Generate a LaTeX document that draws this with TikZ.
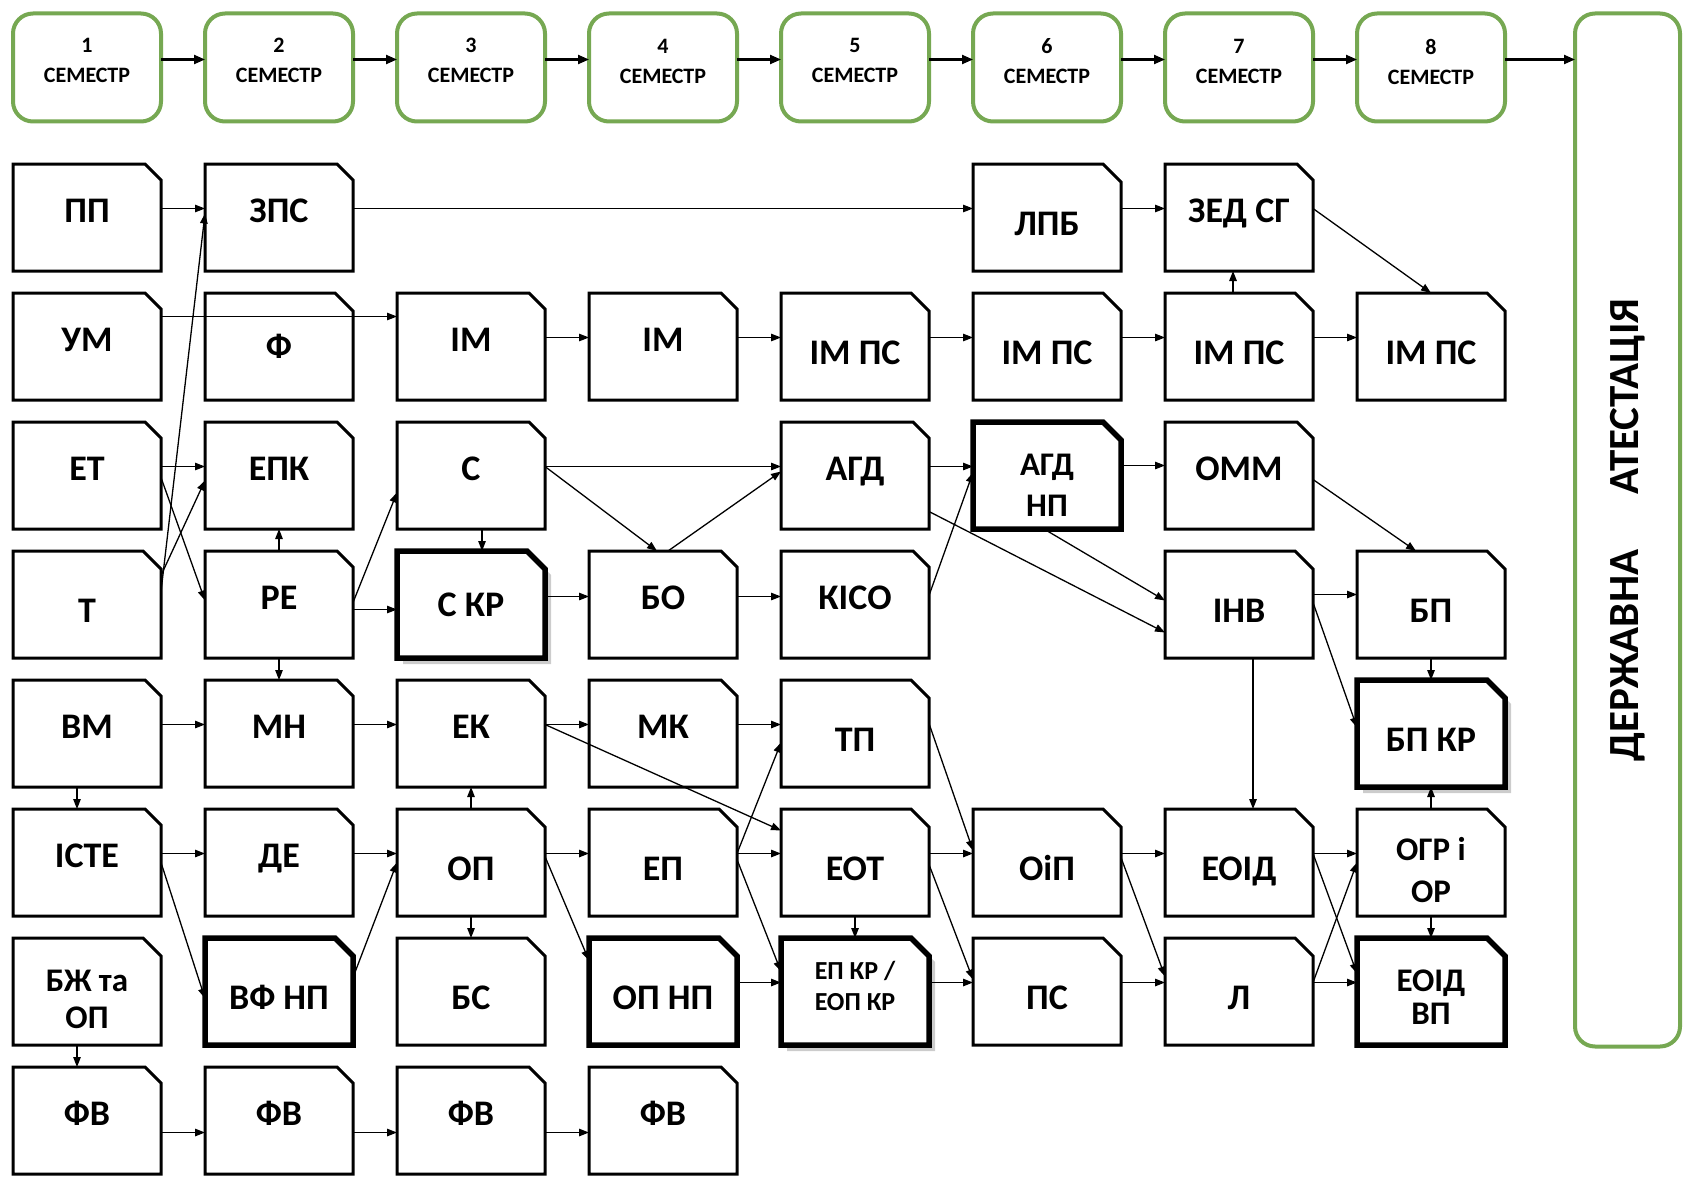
\documentclass[tikz,border=0pt]{standalone}
\usepackage{fontspec}
\setmainfont{Carlito}
\usepackage{graphicx}
\usetikzlibrary{shapes.misc,arrows.meta,positioning,calc,shadows}
\definecolor{semgreen}{RGB}{118,168,82}

\begin{document}
\begin{tikzpicture}[x=1pt, y=1pt,
  node distance=22pt and 44pt,
  box/.style={chamfered rectangle, chamfered rectangle corners=north east,
              chamfered rectangle xsep=9pt, chamfered rectangle ysep=9pt,
              draw, fill=white, line width=3pt, minimum width=148pt, minimum height=107pt,
              inner sep=2pt, outer sep=0pt, align=center,
              font=\bfseries\fontsize{36}{40}\selectfont},
  heavy/.style={box, line width=5.5pt},
  shad/.style={drop shadow={opacity=0.4, shadow xshift=6pt, shadow yshift=-6pt}},
  two/.style={font=\bfseries\fontsize{33}{41}\selectfont},
  twosmall/.style={font=\bfseries\fontsize{26}{31}\selectfont},
  hi/.style={text height=10pt, text depth=0pt},
  lo/.style={text height=36pt, text depth=0pt},
  sem/.style={draw=semgreen, line width=4pt, rounded corners=20pt, minimum width=148pt,
              minimum height=108pt, outer sep=0pt, align=center,
              font=\bfseries\fontsize{22}{30}\selectfont},
  att/.style={draw=semgreen, line width=4pt, rounded corners=20pt, minimum width=105pt,
              minimum height=1033pt, outer sep=0pt,
              font=\bfseries\fontsize{43}{48}\selectfont},
  ar/.style={-{Triangle[length=10pt, width=7.5pt]}, line width=1.3pt},
  sar/.style={-{Triangle[length=11pt, width=9pt]}, line width=2.2pt}
]
  \useasboundingbox (0,0) rectangle (1686,-1180);

  \node[box, hi] (pp) at (87,-217.5) {ПП};
  \node[box, hi, below=of pp] (um) {УМ};
  \node[box, hi, below=of um] (et) {ЕТ};
  \node[box, lo, below=of et] (t) {Т};
  \node[box, hi, below=of t] (vm) {ВМ};
  \node[box, hi, below=of vm] (iste) {ІСТЕ};
  \node[box, two, font=\bfseries\fontsize{33}{37.5}\selectfont, below=of iste] (bzh)
    {\rule{0pt}{37pt}БЖ та\\ОП};
  \node[box, hi, below=of bzh] (fv1) {ФВ};

  \node[box, right=of um] (f) {Ф};
  \node[box, hi, above=of f] (zps) {ЗПС};
  \node[box, hi, below=of f] (epk) {ЕПК};
  \node[box, hi, below=of epk] (re) {РЕ};
  \node[box, hi, below=of re] (mn) {МН};
  \node[box, hi, below=of mn] (de) {ДЕ};
  \node[heavy, lo, below=of de] (vfnp) {ВФ НП};
  \node[box, hi, below=of vfnp] (fv2) {ФВ};

  \node[box, hi, right=of f] (im3) {ІМ};
  \node[box, hi, below=of im3] (s) {С};
  \node[heavy, shad, below=of s] (skr) {С КР};
  \node[box, hi, below=of skr] (ek) {ЕК};
  \node[box, lo, below=of ek] (op) {ОП};
  \node[box, lo, below=of op] (bs) {БС};
  \node[box, hi, below=of bs] (fv3) {ФВ};

  \node[box, hi, right=of im3] (im4) {ІМ};
  \node[box, hi, right=of skr] (bo) {БО};
  \node[box, hi, right=of ek] (mk) {МК};
  \node[box, lo, right=of op] (ep) {ЕП};
  \node[heavy, lo, right=of bs] (opnp) {ОП НП};
  \node[box, hi, right=of fv3] (fv4) {ФВ};

  \node[box, lo, right=of im4] (imps5) {ІМ ПС};
  \node[box, hi, below=of imps5] (agd) {АГД};
  \node[box, hi, below=of agd] (kiso) {КІСО};
  \node[box, lo, below=of kiso] (tp) {ТП};
  \node[box, lo, below=of tp] (eot) {ЕОТ};
  \node[heavy, shad, twosmall, below=of eot] (epkr) {ЕП КР /\\ЕОП КР\rule[-11pt]{0pt}{11pt}};

  \node[box, lo, right=of imps5] (imps6) {ІМ ПС};
  \node[box, lo, above=of imps6] (lpb) {ЛПБ};
  \node[heavy, two, below=of imps6] (agdnp) {\rule{0pt}{40pt}АГД\\НП};
  \node[box, lo, right=of eot] (oip) {ОіП};
  \node[box, lo, right=of epkr] (ps) {ПС};

  \node[box, lo, right=of imps6] (imps7) {ІМ ПС};
  \node[box, hi, above=of imps7] (zed) {ЗЕД СГ};
  \node[box, hi, below=of imps7] (omm) {ОММ};
  \node[box, lo, below=of omm] (inv) {ІНВ};
  \node[box, lo, right=of oip] (eoid) {ЕОІД};
  \node[box, lo, right=of ps] (l) {Л};

  \node[box, lo, right=of imps7] (imps8) {ІМ ПС};
  \node[box, lo, right=of inv] (bp) {БП};
  \node[heavy, shad, lo, below=of bp] (bpkr) {БП КР};
  \node[box, two, font=\bfseries\fontsize{33}{42}\selectfont, below=of bpkr] (ogr)
    {\rule{0pt}{38pt}ОГР і\\ОР};
  \node[heavy, two, font=\bfseries\fontsize{33}{33}\selectfont, below=of ogr] (eoidvp)
    {\rule{0pt}{32pt}ЕОІД\\ВП};

  \node[sem, above=42.5pt of pp] (sem1) {1\\СЕМЕСТР\rule[-15pt]{0pt}{15pt}};
  \node[sem, right=of sem1] (sem2) {2\\СЕМЕСТР\rule[-15pt]{0pt}{15pt}};
  \node[sem, right=of sem2] (sem3) {3\\СЕМЕСТР\rule[-15pt]{0pt}{15pt}};
  \node[sem, right=of sem3] (sem4) {4\\СЕМЕСТР\rule[-12pt]{0pt}{12pt}};
  \node[sem, right=of sem4] (sem5) {5\\СЕМЕСТР\rule[-15pt]{0pt}{15pt}};
  \node[sem, right=of sem5] (sem6) {6\\СЕМЕСТР\rule[-14pt]{0pt}{14pt}};
  \node[sem, right=of sem6] (sem7) {7\\СЕМЕСТР\rule[-12pt]{0pt}{12pt}};
  \node[sem, right=of sem7] (sem8) {8\\СЕМЕСТР\rule[-12pt]{0pt}{12pt}};
  \node[att, right=70pt of sem8.north east, anchor=north west] (att)
    {\rotatebox{90}{ДЕРЖАВНА\hspace{55pt}АТЕСТАЦІЯ}};

  \draw[sar] ($(sem1.east)+(0,8)$) -- ($(sem2.west)+(0,8)$);
  \draw[sar] ($(sem2.east)+(0,8)$) -- ($(sem3.west)+(0,8)$);
  \draw[sar] ($(sem3.east)+(0,8)$) -- ($(sem4.west)+(0,8)$);
  \draw[sar] ($(sem4.east)+(0,8)$) -- ($(sem5.west)+(0,8)$);
  \draw[sar] ($(sem5.east)+(0,8)$) -- ($(sem6.west)+(0,8)$);
  \draw[sar] ($(sem6.east)+(0,8)$) -- ($(sem7.west)+(0,8)$);
  \draw[sar] ($(sem7.east)+(0,8)$) -- ($(sem8.west)+(0,8)$);
  \coordinate (s8out) at ($(sem8.east)+(0,8)$);
  \draw[sar] (s8out) -- (s8out -| att.west);

  \draw[ar] ($(pp.east)+(0,9)$) -- ($(zps.west)+(0,9)$);
  \draw[ar] ($(zps.east)+(0,9)$) -- ($(lpb.west)+(0,9)$);
  \draw[ar] ($(lpb.east)+(0,9)$) -- ($(zed.west)+(0,9)$);
  \draw[ar] ($(zed.east)+(0,9)$) -- (imps8.north);
  \draw[ar] ($(um.east)+(0,30)$) -- ($(im3.west)+(0,30)$);
  \draw[ar] ($(im3.east)+(0,9)$) -- ($(im4.west)+(0,9)$);
  \draw[ar] ($(im4.east)+(0,9)$) -- ($(imps5.west)+(0,9)$);
  \draw[ar] ($(imps5.east)+(0,9)$) -- ($(imps6.west)+(0,9)$);
  \draw[ar] ($(imps6.east)+(0,9)$) -- ($(imps7.west)+(0,9)$);
  \draw[ar] ($(imps7.east)+(0,9)$) -- ($(imps8.west)+(0,9)$);
  \draw[ar] ($(imps7.north)+(-6,0)$) -- ($(zed.south)+(-6,0)$);
  \draw[ar] ($(t.east)+(0,13)$) -- ($(zps.west)+(0,4)$);
  \draw[ar] ($(t.east)+(0,29)$) -- ($(epk.west)+(0,-5)$);
  \draw[ar] ($(et.east)+(0,9)$) -- ($(epk.west)+(0,9)$);
  \draw[ar] ($(et.east)+(0,-2)$) -- ($(re.west)+(0,4)$);
  \draw[ar] (re.north) -- (epk.south);
  \draw[ar] (re.south) -- (mn.north);
  \draw[ar] ($(re.east)+(0,2)$) -- ($(s.west)+(0,-17)$);
  \draw[ar] ($(re.east)+(0,-5)$) -- ($(skr.west)+(0,-5)$);
  \draw[ar] ($(s.south)+(11,0)$) -- ($(skr.north)+(11,0)$);
  \draw[ar] ($(s.east)+(0,9)$) -- ($(agd.west)+(0,9)$);
  \draw[ar] ($(s.east)+(0,9)$) -- ($(bo.north)+(-6,0)$);
  \draw[ar] ($(bo.north)+(5,0)$) -- ($(agd.west)+(0,4)$);
  \draw[ar] ($(skr.east)+(0,8)$) -- ($(bo.west)+(0,8)$);
  \draw[ar] ($(bo.east)+(0,8)$) -- ($(kiso.west)+(0,8)$);
  \draw[ar] ($(kiso.east)+(0,9)$) -- ($(agdnp.west)+(0,3)$);
  \draw[ar] ($(agd.east)+(0,9)$) -- ($(agdnp.west)+(0,9)$);
  \draw[ar] ($(agdnp.east)+(0,10)$) -- ($(omm.west)+(0,10)$);
  \draw[ar] ($(agd.east)+(0,-36)$) -- ($(inv.west)+(0,-28)$);
  \draw[ar] ($(agdnp.south)+(-3,0)$) -- ($(inv.west)+(0,4)$);
  \draw[ar] ($(omm.east)+(0,-4)$) -- ($(bp.north)+(-15,0)$);
  \draw[ar] ($(inv.east)+(0,10)$) -- ($(bp.west)+(0,10)$);
  \draw[ar] ($(inv.east)+(0,2)$) -- ($(bpkr.west)+(0,6)$);
  \draw[ar] ($(inv.south)+(14,0)$) -- ($(eoid.north)+(14,0)$);
  \draw[ar] (bp.south) -- (bpkr.north);
  \draw[ar] (ogr.north) -- (bpkr.south);
  \draw[ar] (ogr.south) -- (eoidvp.north);
  \draw[ar] ($(vm.east)+(0,9)$) -- ($(mn.west)+(0,9)$);
  \draw[ar] ($(vm.south)+(-10,0)$) -- ($(iste.north)+(-10,0)$);
  \draw[ar] ($(mn.east)+(0,9)$) -- ($(ek.west)+(0,9)$);
  \draw[ar] ($(ek.east)+(0,9)$) -- ($(mk.west)+(0,9)$);
  \draw[ar] ($(ek.east)+(0,9)$) -- ($(eot.west)+(0,32)$);
  \draw[ar] ($(mk.east)+(0,9)$) -- ($(tp.west)+(0,9)$);
  \draw[ar] (op.north) -- (ek.south);
  \draw[ar] ($(ep.east)+(0,9)$) -- ($(tp.west)+(0,-9)$);
  \draw[ar] ($(tp.east)+(0,10)$) -- ($(oip.west)+(0,12)$);
  \draw[ar] ($(iste.east)+(0,9)$) -- ($(de.west)+(0,9)$);
  \draw[ar] (iste.east) -- ($(vfnp.west)+(0,-7)$);
  \draw[ar] ($(de.east)+(0,9)$) -- ($(op.west)+(0,9)$);
  \draw[ar] ($(vfnp.east)+(0,14)$) -- (op.west);
  \draw[ar] ($(op.east)+(0,9)$) -- ($(ep.west)+(0,9)$);
  \draw[ar] (op.south) -- (bs.north);
  \draw[ar] ($(op.east)+(0,6)$) -- ($(opnp.west)+(0,31)$);
  \draw[ar] ($(ep.east)+(0,9)$) -- ($(eot.west)+(0,9)$);
  \draw[ar] ($(ep.east)+(0,3)$) -- ($(epkr.west)+(0,20)$);
  \draw[ar] (eot.south) -- (epkr.north);
  \draw[ar] ($(eot.east)+(0,9)$) -- ($(oip.west)+(0,9)$);
  \draw[ar] ($(eot.east)+(0,-2)$) -- ($(ps.west)+(0,12)$);
  \draw[ar] ($(oip.east)+(0,9)$) -- ($(eoid.west)+(0,9)$);
  \draw[ar] ($(oip.east)+(0,5)$) -- ($(l.west)+(0,15)$);
  \draw[ar] ($(eoid.east)+(0,9)$) -- ($(ogr.west)+(0,9)$);
  \draw[ar] ($(eoid.east)+(0,9)$) -- ($(eoidvp.west)+(0,18)$);
  \draw[ar] ($(bzh.south)+(-10,0)$) -- ($(fv1.north)+(-10,0)$);
  \draw[ar] ($(opnp.east)+(0,9)$) -- ($(epkr.west)+(0,9)$);
  \draw[ar] ($(epkr.east)+(0,9)$) -- ($(ps.west)+(0,9)$);
  \draw[ar] ($(ps.east)+(0,9)$) -- ($(l.west)+(0,9)$);
  \draw[ar] ($(l.east)+(0,9)$) -- ($(eoidvp.west)+(0,9)$);
  \draw[ar] ($(l.east)+(0,9)$) -- (ogr.west);
  \draw[ar] ($(fv1.east)+(0,-12)$) -- ($(fv2.west)+(0,-12)$);
  \draw[ar] ($(fv2.east)+(0,-12)$) -- ($(fv3.west)+(0,-12)$);
  \draw[ar] ($(fv3.east)+(0,-12)$) -- ($(fv4.west)+(0,-12)$);
\end{tikzpicture}
\end{document}
